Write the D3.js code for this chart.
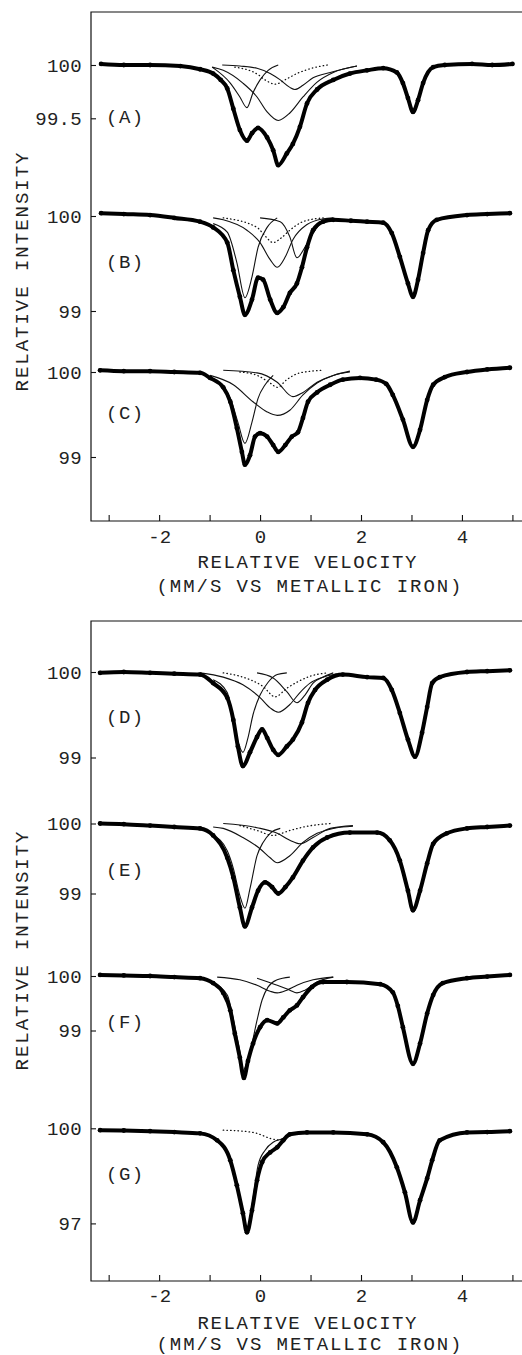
<!DOCTYPE html>
<html>
<head>
<meta charset="utf-8">
<script src="https://cdn.jsdelivr.net/npm/d3@7"></script>
<style>
  body { margin: 0; background: #fff; }
  text { font-family: "Liberation Mono", "DejaVu Sans Mono", monospace; fill: #222; }
</style>
</head>
<body>
<script>
// velocity ticks (mm/s vs metallic iron)
var velTicks = [-3, -2, -1, 0, 1, 2, 3, 4, 5];
var velLabels = [-2, 0, 2, 4];
var xTitle = 'RELATIVE VELOCITY';
var xSubtitle = '(MM/S VS METALLIC IRON)';
var yTitle = 'RELATIVE INTENSITY';
var names = ['A', 'B', 'C', 'D', 'E', 'F', 'G'];

// intensity ticks per spectrum
var ticksA = [100, 99.5];
var ticksB = [100, 99];
var ticksC = [100, 99];
var ticksD = [100, 99];
var ticksE = [100, 99];
var ticksF = [100, 99];
var ticksG = [100, 97];

// measured spectra [velocity, relative intensity %]
var specA = [[-3.15,100.01],[-2.7,100.0],[-2.18,100.0],[-1.58,99.99],[-1.19,99.96],[-0.93,99.92],[-0.78,99.86],[-0.65,99.78],[-0.53,99.59],[-0.40,99.39],[-0.26,99.29],[-0.16,99.36],[-0.04,99.41],[0.14,99.32],[0.26,99.20],[0.36,99.06],[0.53,99.17],[0.65,99.26],[0.79,99.42],[0.93,99.64],[1.13,99.77],[1.45,99.86],[1.78,99.92],[2.12,99.95],[2.44,99.97],[2.71,99.93],[2.83,99.83],[2.93,99.69],[3.03,99.56],[3.13,99.67],[3.23,99.83],[3.43,99.98],[3.66,100.0],[4.2,100.01],[4.6,100.0],[5.0,100.01]];
var specB = [[-3.15,100.03],[-2.7,100.02],[-2.18,100.01],[-1.7,99.98],[-1.19,99.94],[-0.93,99.88],[-0.65,99.72],[-0.53,99.43],[-0.40,99.15],[-0.30,98.96],[-0.16,99.12],[-0.04,99.35],[0.06,99.33],[0.20,99.12],[0.34,98.98],[0.46,99.04],[0.59,99.19],[0.73,99.29],[0.83,99.46],[0.93,99.67],[1.05,99.85],[1.25,99.94],[1.45,99.96],[1.8,99.95],[2.12,99.94],[2.44,99.93],[2.61,99.82],[2.77,99.57],[2.93,99.29],[3.03,99.15],[3.13,99.33],[3.23,99.61],[3.33,99.85],[3.50,99.96],[4.10,100.01],[4.5,100.02],[4.95,100.03]];
var specC = [[-3.17,100.02],[-2.7,100.01],[-2.18,100.01],[-1.7,100.0],[-1.19,99.99],[-0.99,99.93],[-0.73,99.82],[-0.59,99.65],[-0.46,99.34],[-0.36,99.06],[-0.30,98.91],[-0.20,99.02],[-0.10,99.24],[0.0,99.28],[0.14,99.24],[0.26,99.14],[0.36,99.06],[0.50,99.14],[0.63,99.24],[0.75,99.29],[0.85,99.46],[0.95,99.65],[1.13,99.76],[1.39,99.85],[1.64,99.91],[1.98,99.93],[2.3,99.91],[2.50,99.86],[2.63,99.73],[2.83,99.44],[3.03,99.12],[3.17,99.32],[3.31,99.67],[3.43,99.85],[3.66,99.94],[4.10,100.0],[4.5,100.03],[4.95,100.05]];
var specD = [[-3.17,99.99],[-2.7,100.0],[-2.18,99.99],[-1.7,99.98],[-1.19,99.97],[-0.93,99.87],[-0.65,99.70],[-0.53,99.44],[-0.44,99.13],[-0.34,98.90],[-0.20,99.06],[-0.06,99.24],[0.04,99.33],[0.14,99.23],[0.26,99.09],[0.36,99.03],[0.53,99.13],[0.65,99.21],[0.83,99.41],[0.95,99.64],[1.09,99.79],[1.33,99.91],[1.64,99.97],[2.12,99.94],[2.44,99.93],[2.61,99.79],[2.77,99.52],[2.93,99.21],[3.07,99.01],[3.21,99.29],[3.31,99.59],[3.41,99.87],[3.56,99.94],[4.10,100.0],[4.5,100.01],[4.95,100.02]];
var specE = [[-3.17,100.0],[-2.7,99.99],[-2.18,99.97],[-1.7,99.95],[-1.19,99.93],[-0.93,99.83],[-0.65,99.51],[-0.53,99.23],[-0.40,98.80],[-0.30,98.53],[-0.16,98.80],[-0.04,99.04],[0.10,99.16],[0.24,99.09],[0.36,99.0],[0.50,99.09],[0.65,99.23],[0.85,99.47],[1.05,99.66],[1.33,99.80],[1.78,99.87],[2.32,99.87],[2.57,99.76],[2.77,99.47],[2.93,99.04],[3.03,98.76],[3.17,99.04],[3.31,99.43],[3.43,99.71],[3.70,99.86],[4.10,99.93],[4.5,99.95],[4.95,99.97]];
var specF = [[-3.17,100.02],[-2.7,100.01],[-2.18,100.0],[-1.7,99.98],[-1.19,99.96],[-0.93,99.87],[-0.73,99.69],[-0.59,99.37],[-0.50,98.94],[-0.40,98.50],[-0.32,98.13],[-0.24,98.44],[-0.14,98.76],[0.0,99.06],[0.14,99.19],[0.34,99.13],[0.46,99.24],[0.59,99.37],[0.73,99.46],[0.85,99.61],[1.03,99.80],[1.25,99.89],[1.72,99.89],[2.38,99.85],[2.63,99.70],[2.73,99.45],[2.83,99.06],[3.03,98.39],[3.17,98.76],[3.31,99.31],[3.43,99.65],[3.62,99.87],[4.10,99.96],[4.5,99.99],[4.95,100.02]];
var specG = [[-3.17,99.94],[-2.7,99.93],[-2.18,99.91],[-1.7,99.88],[-1.19,99.84],[-0.85,99.62],[-0.59,98.99],[-0.46,98.20],[-0.34,97.32],[-0.26,96.72],[-0.16,97.41],[-0.06,98.36],[0.04,98.93],[0.20,99.24],[0.34,99.40],[0.46,99.62],[0.59,99.81],[0.93,99.87],[1.45,99.87],[2.12,99.81],[2.44,99.56],[2.71,98.77],[2.87,97.98],[3.03,97.03],[3.17,97.73],[3.31,98.42],[3.41,98.99],[3.56,99.62],[4.10,99.87],[4.5,99.88],[4.95,99.91]];

// fitted subspectra (solid)
var fitsA = [
  [[-0.75,100.0],[-0.40,99.99],[-0.06,99.97],[0.20,99.92],[0.40,99.86],[0.59,99.79],[0.69,99.77],[0.85,99.81],[1.05,99.88],[1.39,99.93],[1.72,99.97],[1.92,99.99]],
  [[-0.95,99.98],[-0.73,99.95],[-0.34,99.83],[-0.06,99.70],[0.14,99.56],[0.36,99.48],[0.59,99.55],[0.85,99.70],[1.13,99.84],[1.45,99.93],[1.92,99.99]],
  [[-0.95,99.98],[-0.59,99.83],[-0.40,99.70],[-0.26,99.60],[-0.14,99.74],[0.0,99.86],[0.16,99.95],[0.36,100.0]]
];
var fitsB = [
  [[-0.93,99.92],[-0.65,99.83],[-0.46,99.51],[-0.30,99.14],[-0.16,99.36],[-0.04,99.67],[0.14,99.88],[0.34,99.98]],
  [[-0.93,99.98],[-0.73,99.96],[-0.26,99.85],[0.0,99.72],[0.20,99.54],[0.34,99.46],[0.50,99.57],[0.65,99.75],[0.93,99.91],[1.25,99.97],[1.45,99.98]],
  [[0.0,99.98],[0.40,99.94],[0.59,99.78],[0.73,99.56],[0.89,99.67],[1.09,99.85],[1.25,99.96]]
];
var fitsC = [
  [[-0.99,99.94],[-0.59,99.69],[-0.44,99.41],[-0.30,99.16],[-0.16,99.41],[-0.04,99.69],[0.10,99.85],[0.26,99.96]],
  [[-0.99,99.96],[-0.53,99.85],[-0.14,99.65],[0.14,99.53],[0.34,99.49],[0.59,99.55],[0.85,99.73],[1.13,99.87],[1.45,99.96],[1.78,100.0]],
  [[-0.73,100.02],[-0.06,99.99],[0.34,99.88],[0.65,99.71],[0.85,99.76],[1.13,99.88],[1.45,99.96],[1.78,100.01]]
];
var fitsD = [
  [[-0.93,99.91],[-0.65,99.76],[-0.53,99.42],[-0.44,99.19],[-0.34,99.06],[-0.24,99.23],[-0.14,99.50],[0.0,99.73],[0.16,99.88],[0.34,99.97],[0.53,99.99]],
  [[-1.19,99.99],[-0.73,99.94],[-0.34,99.85],[0.0,99.70],[0.20,99.58],[0.36,99.53],[0.59,99.62],[0.79,99.76],[0.99,99.87],[1.25,99.94],[1.52,99.98]],
  [[-0.06,99.99],[0.26,99.93],[0.53,99.77],[0.73,99.64],[0.89,99.73],[1.05,99.87],[1.25,99.94],[1.45,99.99]]
];
var fitsE = [
  [[-0.93,99.83],[-0.65,99.61],[-0.53,99.36],[-0.40,98.97],[-0.30,98.79],[-0.20,99.07],[-0.06,99.54],[0.06,99.73],[0.20,99.86],[0.40,99.93]],
  [[-0.93,99.95],[-0.73,99.93],[-0.34,99.80],[0.0,99.64],[0.20,99.51],[0.34,99.44],[0.59,99.54],[0.85,99.73],[1.13,99.86],[1.45,99.93],[1.84,99.96]],
  [[-0.73,100.0],[-0.06,99.94],[0.34,99.86],[0.59,99.76],[0.79,99.71],[1.05,99.80],[1.39,99.93],[1.84,99.97]]
];
var fitsF = [
  [[-0.93,99.87],[-0.65,99.65],[-0.50,99.07],[-0.40,98.61],[-0.34,98.26],[-0.24,98.48],[-0.16,98.76],[-0.06,99.19],[0.04,99.56],[0.16,99.80],[0.34,99.93],[0.59,99.98]],
  [[-0.85,99.98],[-0.40,99.93],[-0.06,99.83],[0.20,99.72],[0.34,99.69],[0.53,99.74],[0.73,99.83],[1.05,99.93],[1.45,99.98]],
  [[-0.06,99.96],[0.34,99.83],[0.59,99.74],[0.73,99.69],[0.89,99.74],[1.13,99.89],[1.45,99.98]]
];
var fitsG = [
  [[-0.93,99.68],[-0.65,99.24],[-0.53,98.68],[-0.40,97.73],[-0.26,96.78],[-0.16,97.57],[-0.04,98.83],[0.10,99.31],[0.26,99.56],[0.40,99.65],[0.59,99.75]]
];

// dotted subspectra
var dotA = [[-0.5,99.98],[-0.04,99.91],[0.10,99.86],[0.30,99.82],[0.53,99.87],[0.73,99.92],[1.03,99.97],[1.33,100.0]];
var dotB = [[-0.73,99.98],[-0.06,99.88],[0.10,99.79],[0.26,99.72],[0.42,99.77],[0.59,99.85],[0.85,99.94],[1.25,99.98]];
var dotC = [[-0.4,100.0],[-0.06,99.96],[0.20,99.87],[0.34,99.82],[0.53,99.91],[0.79,99.99],[1.25,100.02]];
var dotD = [[-0.73,99.99],[-0.34,99.94],[0.06,99.83],[0.30,99.71],[0.53,99.81],[0.73,99.88],[0.99,99.95],[1.33,99.99]];
var dotE = [[-0.4,99.97],[-0.06,99.90],[0.26,99.83],[0.59,99.90],[0.93,99.96],[1.39,100.0]];
var dotF = [];
var dotG = [[-0.73,99.94],[-0.34,99.91],[-0.06,99.84],[0.20,99.68],[0.40,99.62]];

// ---- layout ----
var W = 522, H = 1355;
var svg = d3.select('body').append('svg')
  .attr('width', W)
  .attr('height', H);

var x = d3.scaleLinear().domain([-3.35, 5.19]).range([91, 522]);

var panels = [
  { top: 12, bottom: 521, tickY: 543, titleY: 568, subY: 592, yLabelMid: 272 },
  { top: 621, bottom: 1281, tickY: 1302, titleY: 1329, subY: 1350, yLabelMid: 951 }
];

// y100 = pixel row of 100 %, k = pixels per 1 %
var spectra = [
  { data: specA, fits: fitsA, dots: dotA, ticks: ticksA, panel: 0, y100: 65, k: 106.6, labelY: 123 },
  { data: specB, fits: fitsB, dots: dotB, ticks: ticksB, panel: 0, y100: 216, k: 95, labelY: 268 },
  { data: specC, fits: fitsC, dots: dotC, ticks: ticksC, panel: 0, y100: 372, k: 85, labelY: 419 },
  { data: specD, fits: fitsD, dots: dotD, ticks: ticksD, panel: 1, y100: 672, k: 85.5, labelY: 723 },
  { data: specE, fits: fitsE, dots: dotE, ticks: ticksE, panel: 1, y100: 823.5, k: 70, labelY: 876 },
  { data: specF, fits: fitsF, dots: dotF, ticks: ticksF, panel: 1, y100: 976, k: 54.5, labelY: 1028 },
  { data: specG, fits: fitsG, dots: dotG, ticks: ticksG, panel: 1, y100: 1128.3, k: 31.7, labelY: 1180 }
];

var fontSize = '19px';

// frames + x axes
panels.forEach(function(p) {
  var g = svg.append('g');
  g.append('path')
    .attr('d', 'M' + W + ',' + p.top + 'H91V' + p.bottom + 'H' + W)
    .attr('fill', 'none')
    .attr('stroke', '#111')
    .attr('stroke-width', 1.2);

  var ax = d3.axisBottom(x)
    .tickValues(velTicks)
    .tickSize(-6)
    .tickPadding(9)
    .tickFormat(function(d) { return velLabels.indexOf(d) >= 0 ? String(d) : ''; });

  var axg = g.append('g')
    .attr('transform', 'translate(0,' + p.bottom + ')')
    .call(ax);
  axg.select('.domain').remove();
  axg.selectAll('line').attr('stroke', '#111').attr('stroke-width', 1.1);
  axg.selectAll('text')
    .attr('y', p.tickY - p.bottom)
    .attr('dy', null)
    .style('font-size', fontSize)
    .style('font-family', '"Liberation Mono", monospace')
    .attr('fill', '#222');

  g.append('text')
    .attr('x', 307).attr('y', p.titleY)
    .attr('text-anchor', 'middle')
    .attr('textLength', 219)
    .attr('lengthAdjust', 'spacing')
    .style('font-size', fontSize)
    .text(xTitle);
  g.append('text')
    .attr('x', 309).attr('y', p.subY)
    .attr('text-anchor', 'middle')
    .attr('textLength', 305)
    .attr('lengthAdjust', 'spacing')
    .style('font-size', fontSize)
    .text(xSubtitle);

  g.append('text')
    .attr('transform', 'translate(28,' + p.yLabelMid + ') rotate(-90)')
    .attr('text-anchor', 'middle')
    .attr('textLength', 239)
    .attr('lengthAdjust', 'spacing')
    .style('font-size', fontSize)
    .text(yTitle);
});

// spectra
spectra.forEach(function(s, i) {
  var y = d3.scaleLinear()
    .domain([99, 100])
    .range([s.y100 + s.k, s.y100]);

  var line = d3.line()
    .x(function(d) { return x(d[0]); })
    .y(function(d) { return y(d[1]); })
    .curve(d3.curveMonotoneX);

  var g = svg.append('g');

  // intensity axis
  var ay = d3.axisLeft(y)
    .tickValues(s.ticks)
    .tickSize(-5)
    .tickPadding(9)
    .tickFormat(function(d) { return String(d); });
  var ayg = g.append('g')
    .attr('transform', 'translate(91,0)')
    .call(ay);
  ayg.select('.domain').remove();
  ayg.selectAll('line').attr('stroke', '#111').attr('stroke-width', 1.1);
  ayg.selectAll('text')
    .style('font-size', fontSize)
    .style('font-family', '"Liberation Mono", monospace')
    .style('letter-spacing', '0.3px')
    .attr('fill', '#222');

  // sample label
  g.append('text')
    .attr('x', 106).attr('y', s.labelY)
    .style('font-size', fontSize)
    .style('letter-spacing', '1.5px')
    .text('(' + names[i] + ')');

  // fitted components
  g.selectAll('path.fit')
    .data(s.fits)
    .enter().append('path')
    .attr('class', 'fit')
    .attr('d', line)
    .attr('fill', 'none')
    .attr('stroke', '#111')
    .attr('stroke-width', 1.1);

  if (s.dots.length) {
    g.append('path')
      .attr('d', line(s.dots))
      .attr('fill', 'none')
      .attr('stroke', '#111')
      .attr('stroke-width', 1.3)
      .attr('stroke-linecap', 'round')
      .attr('stroke-dasharray', '0.5,3.2');
  }

  // measured points
  g.append('path')
    .attr('d', line(s.data))
    .attr('fill', 'none')
    .attr('stroke', '#000')
    .attr('stroke-width', 4)
    .attr('stroke-linejoin', 'round')
    .attr('stroke-linecap', 'round');

  g.selectAll('circle')
    .data(s.data)
    .enter().append('circle')
    .attr('cx', function(d) { return x(d[0]); })
    .attr('cy', function(d) { return y(d[1]); })
    .attr('r', 2.4)
    .attr('fill', '#000');
});
</script>
</body>
</html>
